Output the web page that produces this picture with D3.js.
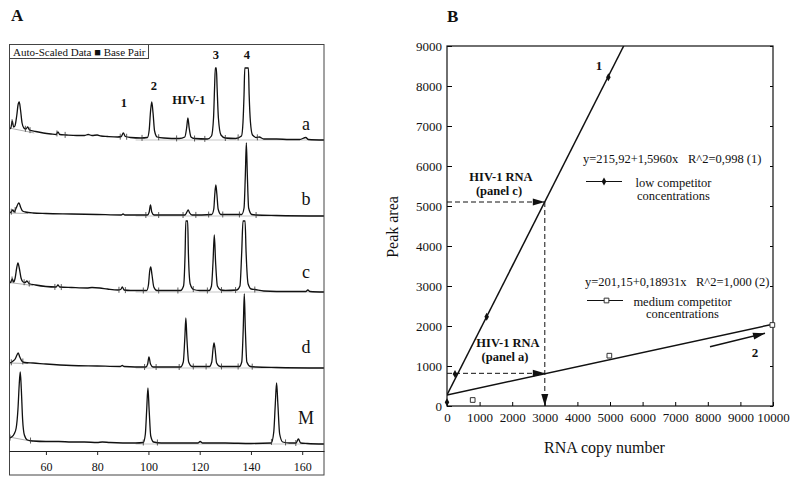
<!DOCTYPE html>
<html><head><meta charset="utf-8">
<script src="https://cdn.jsdelivr.net/npm/d3@7"></script>
<style>body{margin:0;background:#fff} svg{display:block}</style>
</head><body><svg id="c" width="800" height="484"></svg>
<script>
// ================= Panel A data (electropherograms) =================
const lanes = ["a","b","c","d","M"];
const bpTicks = [60,80,100,120,140,160];
const traceA = [[45.6,11],[46.3,12],[46.9,19],[47.4,13],[47.9,14],[48.6,24],[49.2,36],[49.6,38],[50.1,30],[50.7,17],[51.4,12],[52.2,11],[52.9,13],[53.6,10],[56,8.5],[59,7],[62,6],[64,5.5],[64.7,8],[65.4,5.5],[68,5],[72,4.5],[75,4.5],[76.5,5.5],[78,4.5],[80,5],[81.5,4],[84,3.5],[88,3],[89.4,3.5],[90.2,7],[91,3.5],[93,2.5],[97,2],[99.6,2.5],[100.3,10],[100.8,28],[101.3,38],[101.8,27],[102.4,9],[103.4,3],[106,2],[112,1.5],[114.2,3],[114.9,12],[115.4,22],[115.9,12],[116.6,3],[118,1.5],[123,1],[124.6,4],[125.4,22],[125.8,52],[126.1,72],[126.5,72],[126.8,52],[127.3,22],[128.3,5],[130,2],[134,1.5],[136.3,4],[136.9,18],[137.3,45],[137.6,72],[139.0,72],[139.3,45],[139.8,18],[140.6,5],[142.2,2.5],[143.2,3],[145,1],[150,1],[155,0.5],[159,0.5],[161.4,2.5],[162.4,0.5],[168.5,0]];
const traceB = [[45.6,3],[46.4,4],[47.1,6],[47.6,4],[48.4,8],[49.1,12],[49.5,13],[50.1,9],[50.9,5],[52,4],[55,3],[60,2.5],[70,2],[80,1.5],[89.4,1],[90.1,2],[90.8,1],[99.6,1],[100.3,4],[100.8,11],[101.3,4],[102.2,1],[114.3,1],[115,4],[115.5,6],[116.1,3],[117,1],[124.7,1.5],[125.5,7],[125.9,22],[126.3,31],[126.7,22],[127.2,7],[128.3,1.5],[136.4,1.5],[137.3,8],[137.8,40],[138.2,73],[138.6,40],[139.1,8],[140.3,1.5],[142,1],[150,0.5],[168.5,0]];
const traceC = [[45.6,9],[46.3,10],[46.9,13],[47.4,10],[48.0,14],[48.6,24],[49.1,29],[49.6,24],[50.3,14],[51.1,10],[51.9,9.5],[52.6,11],[53.4,8.5],[56,7],[60,5.5],[64,5],[64.7,7],[65.4,5],[70,4.5],[76,4],[78,4.5],[81,4],[84,3],[88,2],[89.2,2.5],[89.8,5],[90.5,2],[93,1.5],[99.3,1.5],[100.0,7],[100.5,21],[100.9,25],[101.4,17],[102.1,5],[103.3,1.5],[112.5,1.5],[113.7,6],[114.3,38],[114.6,71],[115.3,71],[115.6,38],[116.3,8],[117.6,2.5],[120,1.5],[123.7,1.5],[124.6,6],[125.2,30],[125.7,57],[126.2,30],[126.9,6],[128.2,2],[130,1.5],[134.5,2],[135.7,6],[136.4,40],[136.9,71],[137.7,71],[138.1,40],[138.9,8],[140.1,3],[141.5,2.5],[145,1],[155,0.5],[161.4,0.5],[162.2,2],[163,0.5],[168.5,0]];
const traceD = [[45.6,5],[46.4,5.5],[47.2,7],[48,9],[48.7,13],[49.2,15],[49.8,11],[50.6,7],[51.8,5.5],[55,5],[60,4],[70,2.5],[80,2],[89,1.5],[89.8,2.5],[90.5,1.5],[99,1],[99.7,4],[100.2,11],[100.8,4],[101.8,1],[112.5,1],[113.6,6],[114.2,30],[114.6,50],[115,30],[115.7,6],[117,1.5],[123.8,1.5],[124.7,6],[125.2,19],[125.6,25],[126,19],[126.6,5],[128,1.5],[135.5,1.5],[136.4,6],[137,40],[137.4,74],[137.8,40],[138.4,6],[139.8,1.5],[142,1],[150,0.5],[168.5,0]];
const traceM = [[45.6,6],[46.6,7],[47.6,10],[48.4,16],[49.1,35],[49.6,60],[50,72],[50.4,55],[50.9,25],[51.6,9],[52.8,4],[55,3],[60,2.5],[65,2.5],[70,2],[75,2],[80,1.5],[82,2],[85,1.5],[95,1],[98,1.5],[98.8,10],[99.3,33],[99.8,56],[100.3,33],[100.9,8],[102,2],[105,1],[115,1],[119.3,1],[120.2,2.5],[121.1,1],[130,1],[140,0.5],[147.9,1],[148.9,12],[149.5,40],[150,61],[150.5,40],[151.2,10],[152.4,2],[155,1],[157.6,1],[158.5,5],[159.4,1],[162,0.5],[168.5,0]];
// peak-boundary marks on each trace (bp)
const marksA = [46.8,52,53.8,64.3,67.5,89,91.5,97.5,104,111,118,122,130,135,142.5];
const marksB = [46.5,48,99,104,113.5,118.5,123.5,129,135.5,142];
const marksC = [46.8,51.5,53.5,63.5,66,88.5,91,98,104,111.5,117.5,123,128.5,134,141.5];
const marksD = [46.5,51,98.5,103,112,117.5,122.5,128.5,135,140.5];
const marksM = [46,54,98,103.5,148,153.5,157.5];
// fitted baseline under the first (primer) peak: [bp, signal]
const baseA = [[45.6,12],[55.5,7]], baseB=[[45.6,3],[53,2.5]], baseC=[[45.6,9.5],[55,6.5]], baseD=[[45.6,5],[53,4.5]], baseM=[[45.6,7],[55,2.5]];
const peakNames = ["1","2","HIV-1","3","4"];
const peakNameBp = [90.4,102.1,115.8,126.3,138.4];
const peakNameSig = [33,50,36,81,81];

// ================= Panel B data (calibration) =================
const copyTicks = [0,1000,2000,3000,4000,5000,6000,7000,8000,9000,10000];
const areaTicks = [0,1000,2000,3000,4000,5000,6000,7000,8000,9000];
const lowCopies = [0,245,1217,4950];
const lowArea   = [92,800,2233,8217];
const medCopies = [788,4980,9980];
const medArea   = [150,1258,2025];
const fit1Copies = [0,5420], fit1Area = [275,9000];
const fit2Copies = [0,10000], fit2Area = [275,2045];
const hivPanelC = [3000,5100];
const hivPanelA = [3000,817];

// ================= drawing =================
const serif = '"Liberation Serif","Times New Roman",serif';
const svg = d3.select("#c");
const ink = "#111";

// ---------- Panel A ----------
const xA = d3.scaleLinear().domain([45.6,168.5]).range([9,324]);
const lane = d3.scaleBand().domain(lanes).range([64,444]);
const sig = d3.scaleLinear().domain([0,76]).range([0,76]);
const laneY = (l,s) => lane(l) + lane.bandwidth() - sig(s);
const traces = {a:traceA,b:traceB,c:traceC,d:traceD,M:traceM};
const marks = {a:marksA,b:marksB,c:marksC,d:marksD,M:marksM};
const bases = {a:baseA,b:baseB,c:baseC,d:baseD,M:baseM};
const letterDy = {a:10,b:11,c:14,d:15,M:20};

const gA = svg.append("g");
gA.append("defs").append("clipPath").attr("id","clipA").append("rect")
  .attr("x",9).attr("y",44).attr("width",315).attr("height",407);

svg.append("text").attr("x",11).attr("y",21).attr("font-family",serif).attr("font-weight","bold")
  .attr("font-size",17).attr("fill",ink).text("A");

const plotA = gA.append("g").attr("clip-path","url(#clipA)");
const bisect = d3.bisector(d=>d[0]).left;
function valAt(tr,bp){
  const i = Math.max(1, Math.min(tr.length-1, bisect(tr,bp)));
  const a = tr[i-1], b = tr[i];
  const t = (bp-a[0])/(b[0]-a[0]);
  return a[1] + t*(b[1]-a[1]);
}
lanes.forEach(l=>{
  const tr = traces[l];
  const gl = d3.line().x(d=>xA(d[0])).y(d=>laneY(l,d[1]));
  plotA.append("path").attr("d",gl(bases[l])).attr("fill","none").attr("stroke","#9a9a9a").attr("stroke-width",0.8);
  plotA.append("path").attr("d",gl([[95,0],[168.5,0]])).attr("fill","none").attr("stroke","#b0b0b0").attr("stroke-width",0.7);
  const ln = d3.line().x(d=>xA(d[0])).y(d=>laneY(l,d[1])).curve(d3.curveMonotoneX);
  plotA.append("path").attr("d",ln(tr)).attr("fill","none").attr("stroke",ink).attr("stroke-width",1.3).attr("stroke-linejoin","round");
  plotA.selectAll(null).data(marks[l]).enter().append("line")
    .attr("x1",d=>xA(d)).attr("x2",d=>xA(d))
    .attr("y1",d=>laneY(l,valAt(tr,d))-3).attr("y2",d=>laneY(l,valAt(tr,d))+3)
    .attr("stroke","#333").attr("stroke-width",0.8);
  gA.append("text").attr("x",xA(161.5)).attr("y",lane(l)+lane.bandwidth()-letterDy[l])
    .attr("text-anchor","middle").attr("font-family",serif).attr("font-size",18).attr("fill",ink).text(l);
});
gA.selectAll(null).data(peakNames).enter().append("text")
  .attr("x",(d,i)=>xA(peakNameBp[i])).attr("y",(d,i)=>laneY("a",peakNameSig[i]))
  .attr("text-anchor","middle").attr("font-family",serif).attr("font-weight","bold").attr("font-size",12.5)
  .attr("fill",ink).text(d=>d);
gA.append("rect").attr("x",9.5).attr("y",44.5).attr("width",314.5).attr("height",430.5)
  .attr("fill","none").attr("stroke","#444").attr("stroke-width",1);
gA.append("rect").attr("x",9.5).attr("y",44.5).attr("width",139).attr("height",14)
  .attr("fill","#fff").attr("stroke","#444").attr("stroke-width",1);
gA.append("text").attr("x",13).attr("y",55.5).attr("font-family",serif).attr("font-size",11).attr("fill",ink)
  .text("Auto-Scaled Data \u25A0 Base Pair");
const axA = d3.axisBottom(xA).tickValues(bpTicks).tickSizeInner(4).tickSizeOuter(0).tickPadding(7);
gA.append("g").attr("transform","translate(0,451)").call(axA)
  .attr("font-family",serif).attr("font-size",12)
  .call(g=>g.select(".domain").attr("stroke","#222"))
  .call(g=>g.selectAll(".tick line").attr("stroke","#222"))
  .call(g=>g.selectAll("text").attr("fill",ink));

// ---------- Panel B ----------
const xB = d3.scaleLinear().domain([0,10000]).range([447,773]);
const yB = d3.scaleLinear().domain([0,9000]).range([406,46]);
const gB = svg.append("g");
gB.append("defs").append("clipPath").attr("id","clipB").append("rect")
  .attr("x",447).attr("y",46).attr("width",326).attr("height",360);
const mk = gB.append("defs");
mk.append("marker").attr("id","arr").attr("viewBox","0 0 12 8").attr("refX",12).attr("refY",4)
  .attr("markerWidth",13).attr("markerHeight",8).attr("markerUnits","userSpaceOnUse").attr("orient","auto")
  .append("path").attr("d","M0,0.5 L12,4 L0,7.5 Z").attr("fill",ink);

svg.append("text").attr("x",447).attr("y",22).attr("font-family",serif).attr("font-weight","bold")
  .attr("font-size",17).attr("fill",ink).text("B");

const axL = d3.axisLeft(yB).tickValues(areaTicks).tickSizeInner(-5).tickSizeOuter(0).tickPadding(5).tickFormat(d3.format("d"));
gB.append("g").attr("transform","translate(447,0)").call(axL)
  .attr("font-family",serif).attr("font-size",13)
  .call(g=>g.select(".domain").remove())
  .call(g=>g.selectAll("text").attr("fill",ink));
const axBt = d3.axisBottom(xB).tickValues(copyTicks).tickSizeInner(-4).tickSizeOuter(0).tickPadding(6.5).tickFormat(d3.format("d"));
gB.append("g").attr("transform","translate(0,406)").call(axBt)
  .attr("font-family",serif).attr("font-size",13)
  .call(g=>g.select(".domain").remove())
  .call(g=>g.selectAll("text").attr("fill",ink));
const axR = d3.axisRight(yB).tickValues(areaTicks).tickSizeInner(-3).tickSizeOuter(0).tickFormat("");
gB.append("g").attr("transform","translate(773,0)").call(axR).call(g=>g.select(".domain").remove());
gB.append("rect").attr("x",447).attr("y",46).attr("width",326).attr("height",360)
  .attr("fill","none").attr("stroke",ink).attr("stroke-width",1.2);

gB.append("text").attr("transform","translate(398,227) rotate(-90)").attr("text-anchor","middle")
  .attr("font-family",serif).attr("font-size",16).attr("fill",ink).text("Peak area");
gB.append("text").attr("x",604.5).attr("y",453).attr("text-anchor","middle")
  .attr("font-family",serif).attr("font-size",16).attr("fill",ink).text("RNA copy number");

const plotB = gB.append("g").attr("clip-path","url(#clipB)");
const lineB = d3.line().x(d=>xB(d[0])).y(d=>yB(d[1]));
plotB.append("path").attr("d",lineB(d3.zip(fit1Copies,fit1Area))).attr("stroke",ink).attr("stroke-width",1.5).attr("fill","none");
plotB.append("path").attr("d",lineB(d3.zip(fit2Copies,fit2Area))).attr("stroke",ink).attr("stroke-width",1.5).attr("fill","none");

const dash = "5,3";
gB.append("path").attr("d",lineB([[0,hivPanelC[1]],[hivPanelC[0],hivPanelC[1]]])).attr("stroke",ink).attr("stroke-width",1)
  .attr("stroke-dasharray",dash).attr("fill","none").attr("marker-end","url(#arr)");
gB.append("path").attr("d",lineB([[hivPanelC[0],hivPanelC[1]],[hivPanelC[0],0]])).attr("stroke",ink).attr("stroke-width",1)
  .attr("stroke-dasharray",dash).attr("fill","none").attr("marker-end","url(#arr)");
gB.append("path").attr("d",lineB([[0,hivPanelA[1]],[hivPanelA[0],hivPanelA[1]]])).attr("stroke",ink).attr("stroke-width",1)
  .attr("stroke-dasharray",dash).attr("fill","none").attr("marker-end","url(#arr)");

const diamond = d3.symbol().type(d3.symbolDiamond).size(18);
const square = d3.symbol().type(d3.symbolSquare).size(22);
gB.selectAll(null).data(d3.zip(lowCopies,lowArea)).enter().append("path")
  .attr("d",diamond).attr("transform",d=>`translate(${xB(d[0])},${yB(d[1])})`).attr("fill",ink);
gB.selectAll(null).data(d3.zip(medCopies,medArea)).enter().append("path")
  .attr("d",square).attr("transform",d=>`translate(${xB(d[0])},${yB(d[1])})`).attr("fill","#fff").attr("stroke","#333").attr("stroke-width",1);

const bold = (x,y,t,anchor="middle",size=12.5)=>gB.append("text").attr("x",x).attr("y",y).attr("text-anchor",anchor)
  .attr("font-family",serif).attr("font-weight","bold").attr("font-size",size).attr("fill",ink).text(t);
const reg = (x,y,t,anchor="start",size=12.5)=>gB.append("text").attr("x",x).attr("y",y).attr("text-anchor",anchor)
  .attr("font-family",serif).attr("font-size",size).attr("fill",ink).text(t);
bold(501,181,"HIV-1 RNA");
bold(499,195,"(panel c)");
bold(508,347,"HIV-1 RNA");
bold(505,361,"(panel a)");
bold(599,70,"1","middle",13);
bold(755,357,"2","middle",13);
gB.append("path").attr("d",lineB([[8067,1483],[9755,1817]])).attr("stroke",ink).attr("stroke-width",1.5)
  .attr("fill","none").attr("marker-end","url(#arr)");

reg(583,162.5,"y=215,92+1,5960x");
reg(688,162.5,"R^2=0,998 (1)");
gB.append("line").attr("x1",586).attr("x2",622).attr("y1",181.5).attr("y2",181.5).attr("stroke",ink).attr("stroke-width",1);
gB.append("path").attr("d",diamond).attr("transform","translate(604,181.5)").attr("fill",ink);
reg(673.5,186.5,"low competitor","middle");
reg(673.5,199.5,"concentrations","middle");

reg(585,286,"y=201,15+0,18931x");
reg(696,286,"R^2=1,000 (2)");
gB.append("line").attr("x1",587).attr("x2",623).attr("y1",300.5).attr("y2",300.5).attr("stroke",ink).attr("stroke-width",1);
gB.append("path").attr("d",square).attr("transform","translate(606.5,300.5)").attr("fill","#fff").attr("stroke","#333");
reg(682.5,305.5,"medium competitor","middle");
reg(682.5,318,"concentrations","middle");
</script></body></html>
